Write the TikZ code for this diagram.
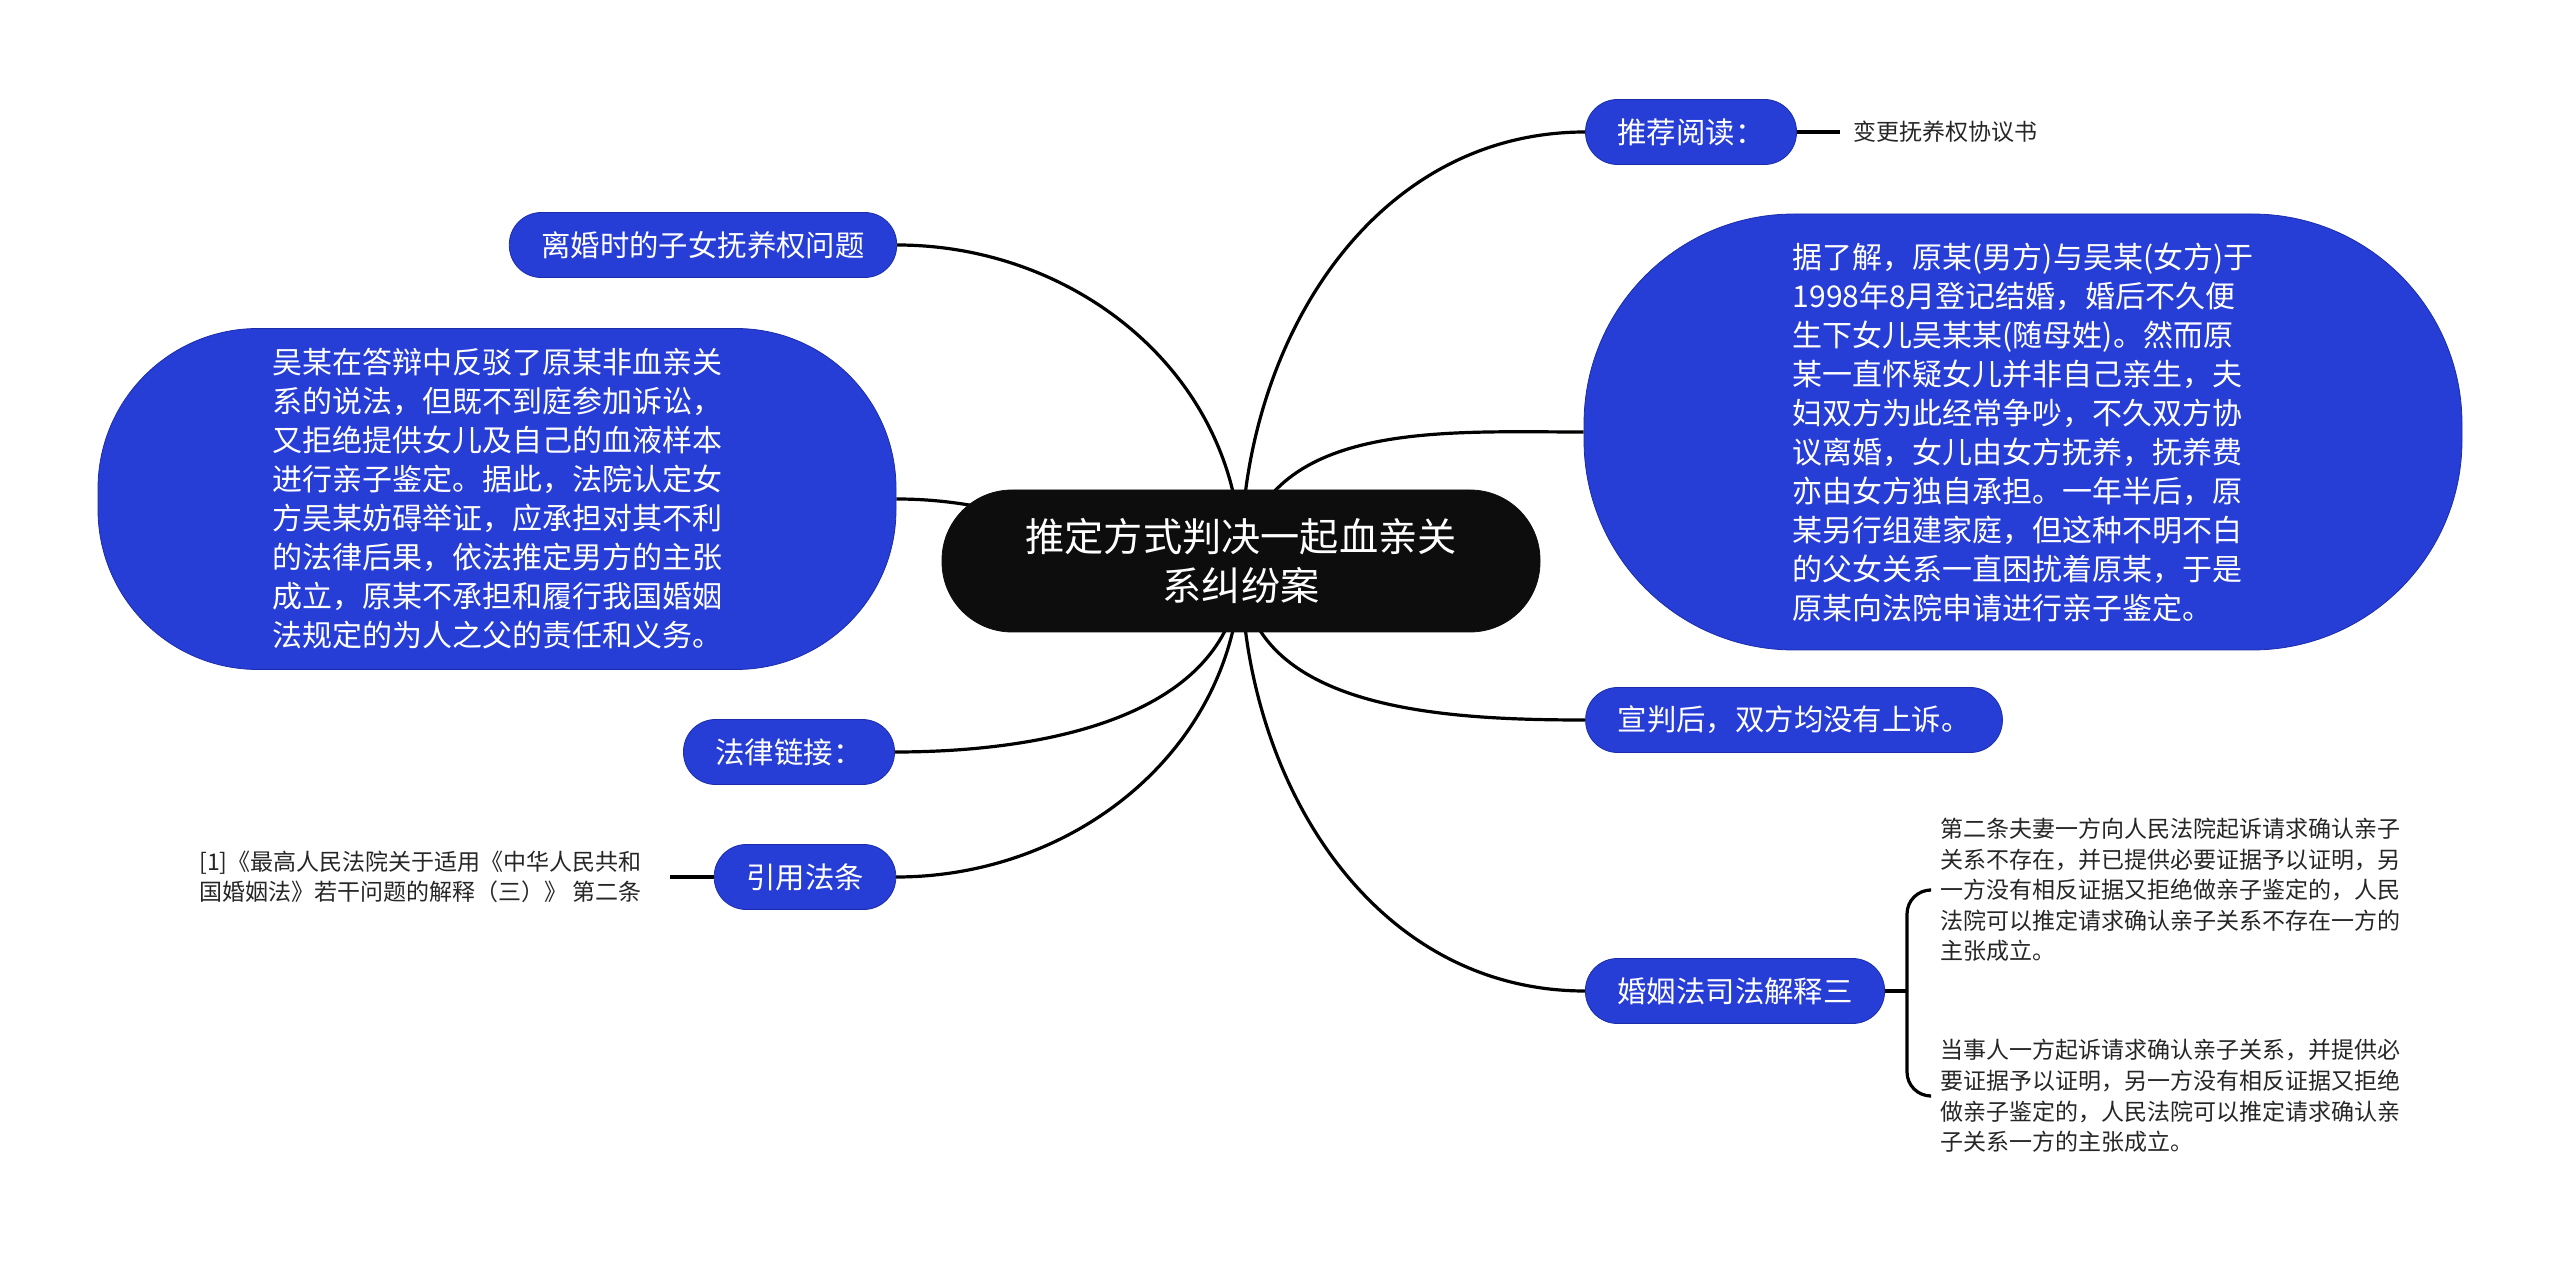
\documentclass[tikz,border=0pt]{standalone}
\usepackage{fontspec}
\setmainfont{Noto Sans CJK SC}
\usepackage{tikz}
\usetikzlibrary{backgrounds}
\definecolor{branchblue}{RGB}{38,61,214}
\definecolor{branchedge}{RGB}{28,45,170}
\definecolor{rootblack}{RGB}{13,13,13}

\begin{document}
\begin{tikzpicture}[x=0.5pt,y=0.5pt,
  root/.style={fill=rootblack,draw=rootblack,text=white,rounded corners=35pt,minimum width=299pt,minimum height=71pt,align=center,inner sep=0pt,font=\fontsize{19.6pt}{24.5pt}\selectfont},
  branch/.style={fill=branchblue,draw=branchedge,thin,text=white,rounded corners=16pt,minimum height=32.5pt,inner xsep=16pt,inner ysep=0pt,font=\fontsize{14.7pt}{18pt}\selectfont},
  bigoval/.style={fill=branchblue,draw=branchedge,thin,text=white,align=left,inner sep=0pt,font=\fontsize{15pt}{19.5pt}\selectfont},
  leaf/.style={text=black!85,align=left,inner ysep=2pt,font=\fontsize{11.5pt}{15.3pt}\selectfont},
  link/.style={draw=black,line width=1.6pt}]
\useasboundingbox (0,0) rectangle (2560,-1261);

% ================= Root =================
\node[root] (case) at (1241,-561) {推定方式判决一起血亲关\\系纠纷案};

% ================= Right side =================
\node[branch] (tuijian) at (1691,-132) {推荐阅读：};
\node[leaf,anchor=west,inner xsep=6.5pt] (biangeng) at (1840,-132) {变更抚养权协议书};
\node[bigoval,minimum width=439pt,minimum height=218pt,rounded corners=105pt] (jingguo) at (2023,-432)
  {据了解，原某(男方)与吴某(女方)于\\1998年8月登记结婚，婚后不久便\\生下女儿吴某某(随母姓)。然而原\\某一直怀疑女儿并非自己亲生，夫\\妇双方为此经常争吵，不久双方协\\议离婚，女儿由女方抚养，抚养费\\亦由女方独自承担。一年半后，原\\某另行组建家庭，但这种不明不白\\的父女关系一直困扰着原某，于是\\原某向法院申请进行亲子鉴定。};
\node[branch] (xuanpan) at (1794,-720) {宣判后，双方均没有上诉。};
\node[branch] (jieshi) at (1735,-991) {婚姻法司法解释三};
\node[leaf,anchor=west,inner xsep=5.5pt] (tiao1) at (1929,-890)
  {第二条夫妻一方向人民法院起诉请求确认亲子\\关系不存在，并已提供必要证据予以证明，另\\一方没有相反证据又拒绝做亲子鉴定的，人民\\法院可以推定请求确认亲子关系不存在一方的\\主张成立。};
\node[leaf,anchor=west,inner xsep=5.5pt] (tiao2) at (1929,-1096)
  {当事人一方起诉请求确认亲子关系，并提供必\\要证据予以证明，另一方没有相反证据又拒绝\\做亲子鉴定的，人民法院可以推定请求确认亲\\子关系一方的主张成立。};

% ================= Left side =================
\node[branch] (fuyang) at (703,-245) {离婚时的子女抚养权问题};
\node[bigoval,minimum width=399pt,minimum height=170.5pt,rounded corners=80pt] (dabian) at (497,-499)
  {吴某在答辩中反驳了原某非血亲关\\系的说法，但既不到庭参加诉讼，\\又拒绝提供女儿及自己的血液样本\\进行亲子鉴定。据此，法院认定女\\方吴某妨碍举证，应承担对其不利\\的法律后果，依法推定男方的主张\\成立，原某不承担和履行我国婚姻\\法规定的为人之父的责任和义务。};
\node[branch] (lianjie) at (789,-752) {法律链接：};
\node[branch] (yinyong) at (805,-877) {引用法条};
\node[leaf,anchor=east,inner xsep=14pt] (fatiao) at (670,-877)
  {[1]《最高人民法院关于适用《中华人民共和\\国婚姻法》若干问题的解释（三）》 第二条};

% ================= Connectors =================
\begin{pgfonlayer}{background}
\draw[link] (case.center) to[out=90,in=180] (tuijian.west);
\draw[link] (case.center) to[out=80,in=180] (jingguo.west);
\draw[link] (case.center) to[out=-90,in=180] (xuanpan.west);
\draw[link] (case.center) to[out=-90,in=180] (jieshi.west);
\draw[link] (case.center) to[out=90,in=0] (fuyang.east);
\draw[link] (case.center) to[out=180,in=0] (dabian.east);
\draw[link] (case.center) to[out=-90,in=0] (lianjie.east);
\draw[link] (case.center) to[out=-90,in=0] (yinyong.east);
\end{pgfonlayer}
\draw[link] (tuijian.east) -- (biangeng.west);
\draw[link] (yinyong.west) -- (fatiao.east);
\coordinate (kuohao) at ([xshift=11pt]jieshi.east);
\draw[link] (jieshi.east) -- (kuohao);
\draw[link,rounded corners=12pt] (kuohao) |- (tiao1.west);
\draw[link,rounded corners=12pt] (kuohao) |- (tiao2.west);
\end{tikzpicture}
\end{document}
